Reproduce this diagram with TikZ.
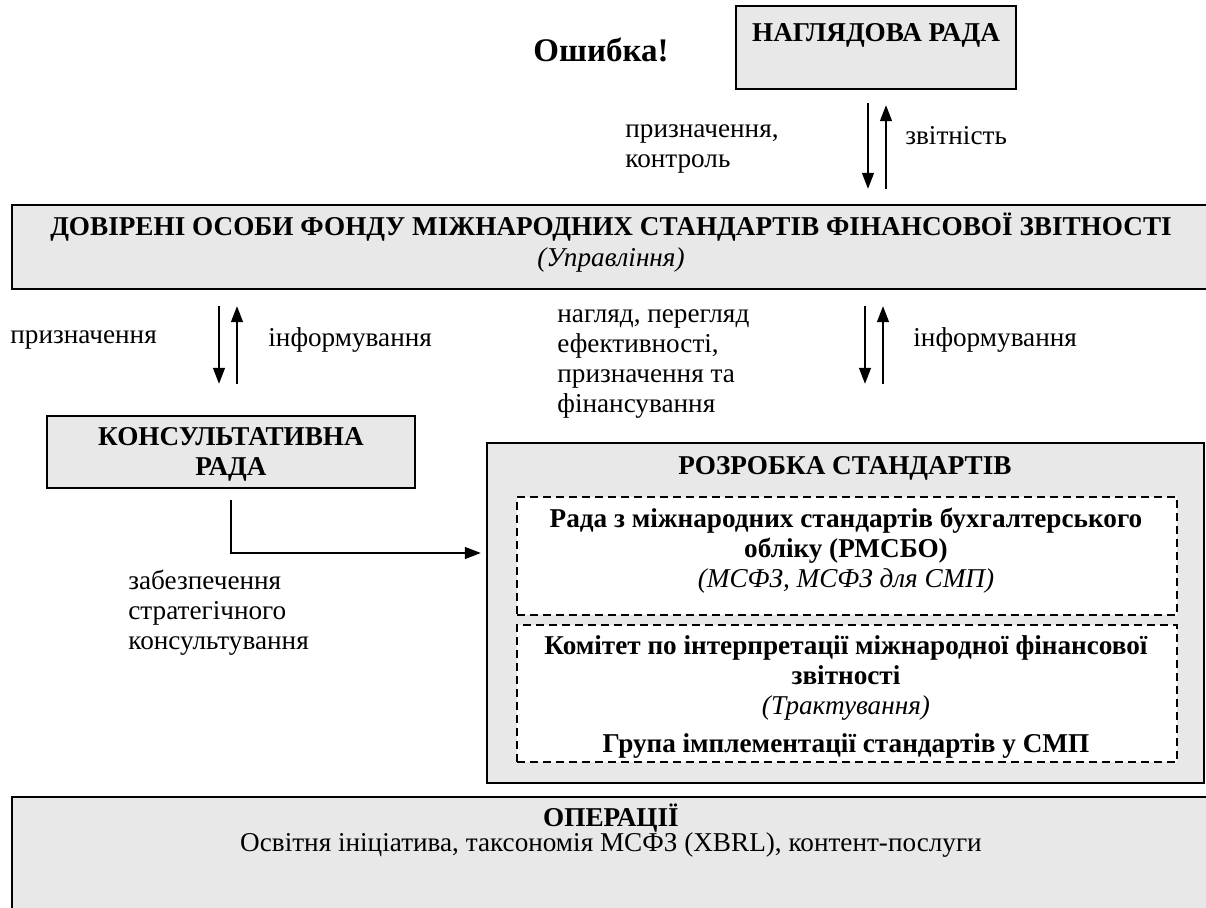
\documentclass[tikz,border=0pt]{standalone}
\usepackage{fontspec}
\setmainfont{Liberation Serif}
\usetikzlibrary{arrows.meta, positioning}
\definecolor{PanelGrey}{RGB}{232, 232, 232}
\newcommand{\bodysize}{\fontsize{13.6}{15}\selectfont}
\tikzset{
  panel/.style={draw=black, line width=1.2pt, fill=PanelGrey, inner sep=0pt},
  subpanel/.style={draw=black, line width=0.8pt, dash pattern=on 4pt off 2.5pt, fill=white, inner sep=0pt},
  title/.style={font=\bodysize\bfseries, align=center, inner sep=0pt},
  plain/.style={font=\bodysize, align=center, inner sep=0pt},
  caption/.style={font=\bodysize, align=left, anchor=west, inner sep=0pt},
  link/.style={line width=0.7pt, -{Triangle[length=8pt, width=6pt]}}
}

\begin{document}
\begin{tikzpicture}[x=0.5pt, y=-0.5pt]
    \useasboundingbox (0,0) rectangle (1206,908);

    % Наглядова рада
    \node[panel, minimum width=140pt, minimum height=41.5pt] (nagl) at (876,47.5) {};
    \node[title] (naglT) at (876,35) {НАГЛЯДОВА РАДА};
    \node[title, font=\fontsize{16.5}{18}\selectfont\bfseries] (err) at (601,50) {Ошибка!};

    % Довірені особи
    \node[panel, minimum width=600pt, minimum height=42pt] (trust) at (612,247) {};
    \node[title] (trustT) at (611,227) {ДОВІРЕНІ ОСОБИ ФОНДУ МІЖНАРОДНИХ СТАНДАРТІВ ФІНАНСОВОЇ ЗВІТНОСТІ};
    \node[plain, font=\bodysize\itshape] (trustS) at (611,260) {(Управління)};

    % Наглядова рада <-> довірені особи
    \draw[link, shorten <=6.5pt, shorten >=7.5pt] (868,0 |- nagl.south) -- (868,0 |- trust.north);
    \draw[link, shorten <=7.5pt, shorten >=7.5pt] (886,0 |- trust.north) -- (886,0 |- nagl.south);
    \node[caption] (naglL) at (625,149) {призначення,\\контроль};
    \node[caption] (naglR) at (905,136) {звітність};

    % Консультативна рада
    \node[panel, minimum width=184pt, minimum height=36pt] (cons) at (231,452) {};
    \node[title] (consT) at (231,454) {КОНСУЛЬТАТИВНА\\РАДА};
    \draw[link, shorten <=8pt, shorten >=15.5pt] (219,0 |- trust.south) -- (219,0 |- cons.north);
    \draw[link, shorten <=15.5pt, shorten >=8pt] (237,0 |- cons.north) -- (237,0 |- trust.south);
    \node[caption] (consL) at (10,340) {призначення};
    \node[caption] (consR) at (268,340) {інформування};

    % Розробка стандартів
    \node[panel, minimum width=358.5pt, minimum height=170pt] (stand) at (845.5,613) {};
    \node[title] (standT) at (845,468) {РОЗРОБКА СТАНДАРТІВ};
    \draw[link, shorten <=8pt, shorten >=29pt] (865,0 |- trust.south) -- (865,0 |- stand.north);
    \draw[link, shorten <=29pt, shorten >=8pt] (883,0 |- stand.north) -- (883,0 |- trust.south);
    \node[caption] (standL) at (557,364) {нагляд, перегляд\\ефективності,\\призначення та\\фінансування};
    \node[caption] (standR) at (913,340) {інформування};

    \node[subpanel, minimum width=330pt, minimum height=59pt] (iasb) at (847,556) {};
    \node[title] (iasbT) at (846,551) {Рада з міжнародних стандартів бухгалтерського\\обліку (РМСБО)\\{\mdseries\itshape(МСФЗ, МСФЗ для СМП)}};
    \node[subpanel, minimum width=330pt, minimum height=68.5pt] (ifric) at (847,693.5) {};
    \node[title] (ifricT) at (846,678) {Комітет по інтерпретації міжнародної фінансової\\звітності\\{\mdseries\itshape(Трактування)}};
    \node[title] (smeT) at (846,746) {Група імплементації стандартів у СМП};

    % Консультативна рада -> розробка стандартів
    \draw[link, shorten <=5.5pt, shorten >=2.5pt] (cons.south) |- (stand.west |- 0,553);
    \node[caption] (consB) at (128,613) {забезпечення\\стратегічного\\консультування};

    % Операції
    \node[panel, minimum width=600pt, minimum height=70pt] (ops) at (612,867) {};
    \node[title] (opsT) at (611,818) {ОПЕРАЦІЇ};
    \node[plain] (opsS) at (611,845) {Освітня ініціатива, таксономія МСФЗ (XBRL), контент-послуги};
\end{tikzpicture}
\end{document}
